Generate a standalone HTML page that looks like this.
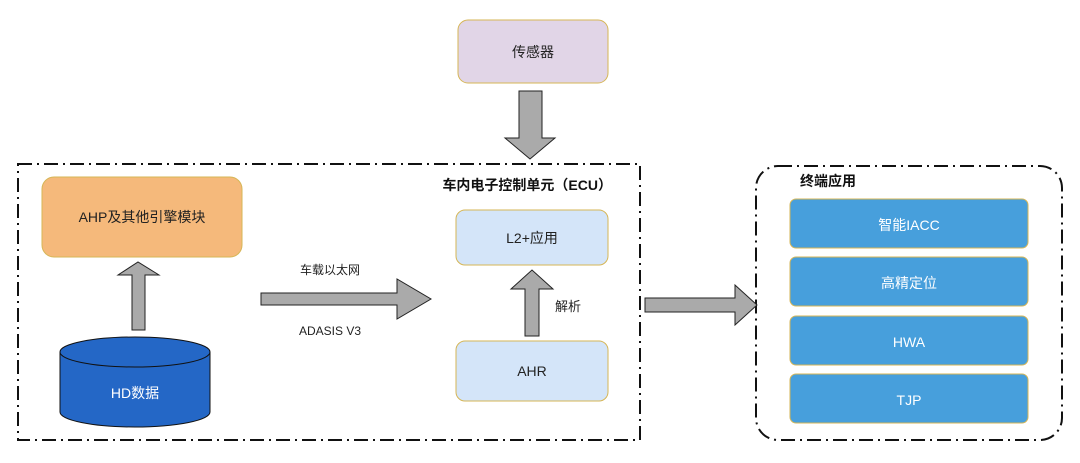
<!DOCTYPE html>
<html><head><meta charset="utf-8"><style>
body{margin:0;background:#fff;}
svg text{font-family:"Liberation Sans","Noto Sans CJK SC",sans-serif;}
</style></head><body>
<svg width="1080" height="458" viewBox="0 0 1080 458" xmlns="http://www.w3.org/2000/svg">
<rect width="1080" height="458" fill="#fff"/>
<!-- ECU dashed box -->
<rect x="18" y="164" width="622" height="276" fill="none" stroke="#111" stroke-width="2" stroke-dasharray="14,5,2,5"/>
<!-- terminal box -->
<rect x="756" y="166" width="306" height="274" rx="22" fill="none" stroke="#111" stroke-width="2" stroke-dasharray="14,5,2,5"/>
<!-- sensor -->
<rect x="458" y="20" width="150" height="63" rx="10" fill="#e1d5e7" stroke="#d6b656" stroke-width="1"/>
<text x="533" y="57" font-size="14" text-anchor="middle" fill="#222">传感器</text>
<!-- sensor arrow down -->
<polygon points="519,91 542,91 542,138 555,138 530,159 505,138 519,138" fill="#aaa" stroke="#222" stroke-width="1"/>
<text x="612" y="190" font-size="14" font-weight="bold" text-anchor="end" fill="#111">车内电子控制单元（ECU）</text>
<!-- L2 -->
<rect x="456" y="210" width="152" height="55" rx="9" fill="#d4e5f9" stroke="#d6b656"/>
<text x="532" y="243" font-size="14" text-anchor="middle" fill="#222">L2+应用</text>
<!-- AHR -->
<rect x="456" y="341" width="152" height="60" rx="9" fill="#d4e5f9" stroke="#d6b656"/>
<text x="532" y="376" font-size="14" text-anchor="middle" fill="#222">AHR</text>
<!-- up arrow between -->
<polygon points="525,336 539,336 539,289 553,289 532,270 511,289 525,289" fill="#aaa" stroke="#222"/>
<text x="555" y="311" font-size="13" fill="#222">解析</text>
<!-- AHP -->
<rect x="42" y="177" width="200" height="80" rx="12" fill="#f5b97b" stroke="#d6b656"/>
<text x="142" y="222" font-size="14" text-anchor="middle" fill="#222">AHP及其他引擎模块</text>
<!-- up arrow -->
<polygon points="132,330 145,330 145,275 159,275 138,262 118,275 132,275" fill="#aaa" stroke="#222"/>
<!-- cylinder -->
<path d="M60,352 L60,412 A75,15 0 0 0 210,412 L210,352" fill="#2467c6" stroke="#111"/>
<ellipse cx="135" cy="352" rx="75" ry="15" fill="#2467c6" stroke="#111"/>
<text x="135" y="398" font-size="14" text-anchor="middle" fill="#fff">HD数据</text>
<!-- horizontal arrow -->
<polygon points="261,293 397,293 397,279 431,299 397,319 397,305 261,305" fill="#aaa" stroke="#222"/>
<text x="330" y="274" font-size="12" text-anchor="middle" fill="#222">车载以太网</text>
<text x="330" y="335" font-size="12" text-anchor="middle" fill="#222">ADASIS V3</text>
<!-- right arrow -->
<polygon points="645,298 735,298 735,285 757,305 735,325 735,312 645,312" fill="#aaa" stroke="#222"/>
<text x="800" y="186" font-size="14" font-weight="bold" fill="#111">终端应用</text>
<rect x="790" y="199" width="238" height="49" rx="6" fill="#479fdc" stroke="#d6b656"/>
<text x="909" y="230" font-size="14" text-anchor="middle" fill="#fff">智能IACC</text>
<rect x="790" y="257" width="238" height="49" rx="6" fill="#479fdc" stroke="#d6b656"/>
<text x="909" y="288" font-size="14" text-anchor="middle" fill="#fff">高精定位</text>
<rect x="790" y="316" width="238" height="49" rx="6" fill="#479fdc" stroke="#d6b656"/>
<text x="909" y="347" font-size="14" text-anchor="middle" fill="#fff">HWA</text>
<rect x="790" y="374" width="238" height="49" rx="6" fill="#479fdc" stroke="#d6b656"/>
<text x="909" y="405" font-size="14" text-anchor="middle" fill="#fff">TJP</text>
</svg>
</body></html>
